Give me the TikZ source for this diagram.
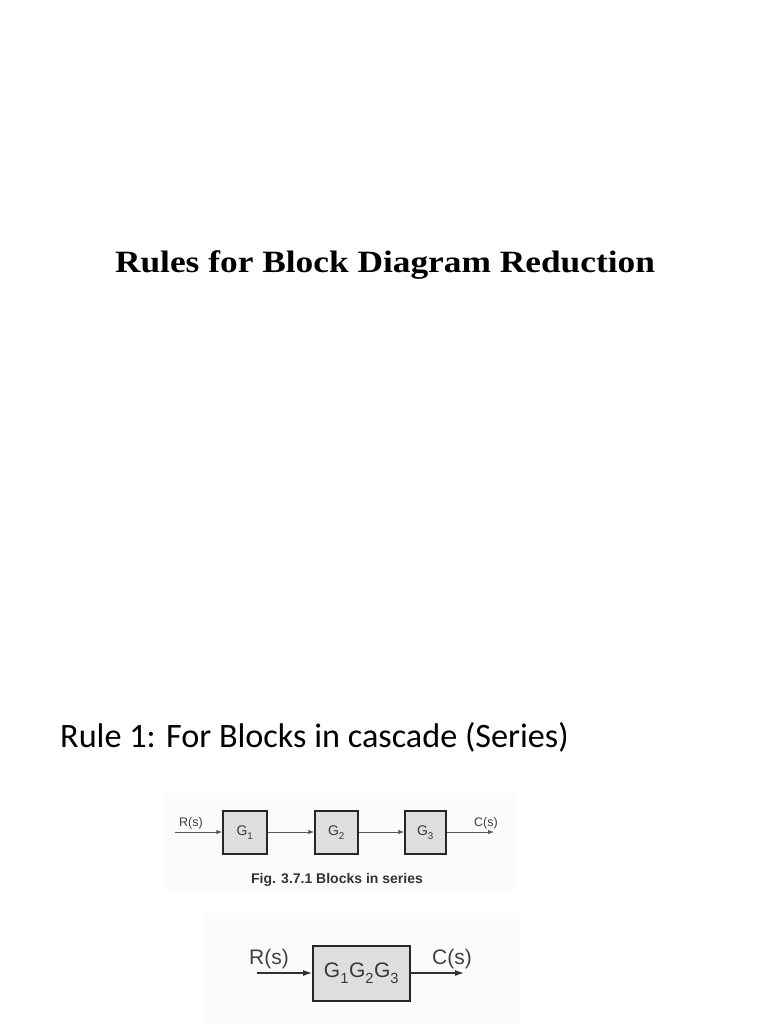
\documentclass[tikz,border=0pt]{standalone}
\usepackage{fontspec}
\setmainfont{Liberation Serif}
\newfontfamily\diagfont{Liberation Sans}
\newfontfamily\rulefont{Carlito}
\usetikzlibrary{arrows.meta}
\newcommand{\Gsub}[1]{G\raisebox{-0.12em}{\textsubscript{#1}}}
\tikzset{
  blk/.style={draw=black!85, line width=1.3pt, fill=black!13, inner sep=0pt, font=\diagfont, text=black!78},
  sig/.style={draw=black!65, line width=0.9pt, -{Latex[length=6pt,width=4.5pt]}},
  sigb/.style={draw=black!80, line width=1.2pt, -{Latex[length=9pt,width=6pt]}},
  lbl/.style={font=\diagfont, text=black!75, inner sep=0pt},
}
\begin{document}
\begin{tikzpicture}[x=1pt,y=-1pt]
\useasboundingbox (0,0) rectangle (768,1024);
\fill[white] (0,0) rectangle (768,1024);
% faint image backgrounds
\fill[black!1.5] (165,793) rectangle (515,890);
\fill[black!1.5] (203,913) rectangle (520,1024);
% title
\node[anchor=base, inner sep=0pt, xscale=1.14, font=\fontsize{31}{37}\selectfont\bfseries] (title) at (385,272) {Rules for Block Diagram Reduction};
% rule line
\node[anchor=base west, inner sep=0pt, font=\rulefont\fontsize{34.2}{40}\selectfont] (rule) at (60,747) {Rule 1: For Blocks in cascade (Series)};
% diagram 1
\coordinate (in1) at (175,832);
\node[blk, minimum width=44pt, minimum height=43pt, font=\diagfont\fontsize{14}{15}\selectfont] (g1) at (245,832.5) {\Gsub{1}};
\node[blk, minimum width=43pt, minimum height=43pt, font=\diagfont\fontsize{14}{15}\selectfont] (g2) at (336.5,832.5) {\Gsub{2}};
\node[blk, minimum width=41pt, minimum height=43pt, font=\diagfont\fontsize{14}{15}\selectfont] (g3) at (425.5,832.5) {\Gsub{3}};
\coordinate (out1) at (494,832);
\draw[sig] (in1) -- (g1.west |- in1);
\draw[sig] (g1.east |- in1) -- (g2.west |- in1);
\draw[sig] (g2.east |- in1) -- (g3.west |- in1);
\draw[sig] (g3.east |- in1) -- (out1);
\node[lbl, font=\diagfont\fontsize{12.5}{14}\selectfont, anchor=base] (r1) at (191,826) {R(s)};
\node[lbl, font=\diagfont\fontsize{12.5}{14}\selectfont, anchor=base] (c1) at (486,826) {C(s)};
\node[lbl, font=\diagfont\bfseries\fontsize{14}{16}\selectfont, anchor=base, text=black!80] (cap1) at (337,883) {Fig. 3.7.1 Blocks in series};
% diagram 2
\coordinate (in2) at (257,973);
\node[blk, line width=1.8pt, minimum width=97pt, minimum height=55pt, font=\diagfont\fontsize{21}{24}\selectfont] (g123) at (361.5,973.5) {\Gsub{1}\Gsub{2}\Gsub{3}};
\coordinate (out2) at (464,973);
\draw[sigb] (in2) -- (g123.west |- in2);
\draw[sigb] (g123.east |- in2) -- (out2);
\node[lbl, font=\diagfont\fontsize{21}{25}\selectfont, anchor=base] (r2) at (269,964) {R(s)};
\node[lbl, font=\diagfont\fontsize{21}{25}\selectfont, anchor=base] (c2) at (452,964) {C(s)};
\end{tikzpicture}
\end{document}
